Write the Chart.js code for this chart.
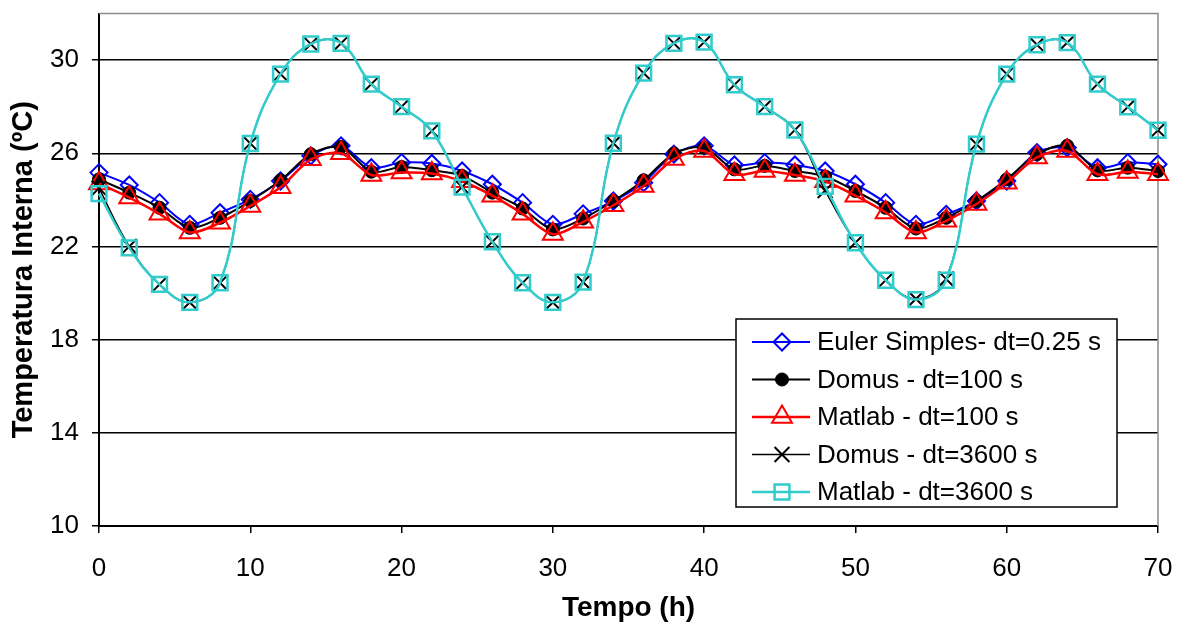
<!DOCTYPE html>
<html>
<head>
<meta charset="utf-8">
<script src="https://cdn.jsdelivr.net/npm/chart.js@4.4.1/dist/chart.umd.min.js"></script>
<style>
  html, body { margin: 0; padding: 0; background: #fff; }
  #wrap { width: 1182px; height: 628px; }
</style>
</head>
<body>
<div id="wrap"><canvas id="chart" width="1182" height="628"></canvas></div>
<script>
// tempo (h)
const hours = [0, 2, 4, 6, 8, 10, 12, 14, 16, 18, 20, 22, 24, 26, 28, 30, 32, 34,
  36, 38, 40, 42, 44, 46, 48, 50, 52, 54, 56, 58, 60, 62, 64, 66, 68, 70];

// temperatura interna (ºC)
const eulerDt025 = [25.17, 24.64, 23.88, 22.95, 23.45, 24.02, 24.81, 25.89, 26.32, 25.38, 25.6, 25.56,
  25.24, 24.67, 23.88, 22.95, 23.4, 23.95, 24.74, 25.96, 26.32, 25.5, 25.6, 25.5,
  25.24, 24.67, 23.88, 22.95, 23.38, 23.95, 24.81, 26.03, 26.24, 25.38, 25.6, 25.53];
const domusDt100 = [24.88, 24.31, 23.66, 22.8, 23.23, 23.95, 24.84, 25.96, 26.27, 25.21, 25.41, 25.27,
  25.03, 24.31, 23.63, 22.73, 23.2, 23.95, 24.84, 25.99, 26.24, 25.31, 25.46, 25.24,
  25.0, 24.38, 23.66, 22.77, 23.23, 23.95, 24.88, 25.96, 26.32, 25.27, 25.38, 25.24];
const matlabDt100 = [24.7, 24.1, 23.4, 22.6, 23.02, 23.74, 24.54, 25.74, 26.0, 25.07, 25.17, 25.13,
  24.8, 24.18, 23.4, 22.53, 23.06, 23.77, 24.6, 25.75, 26.1, 25.1, 25.24, 25.07,
  24.8, 24.18, 23.46, 22.6, 23.1, 23.82, 24.74, 25.82, 26.1, 25.1, 25.2, 25.1];
const domusDt3600 = [24.5, 22.0, 20.37, 19.6, 20.44, 26.42, 29.4, 30.69, 30.72, 28.97, 28.0, 26.96,
  24.55, 22.2, 20.44, 19.6, 20.47, 26.43, 29.44, 30.72, 30.77, 28.94, 28.0, 27.0,
  24.4, 22.16, 20.55, 19.75, 20.6, 26.39, 29.4, 30.66, 30.75, 28.97, 27.99, 26.99];
const matlabDt3600 = [24.27, 21.94, 20.37, 19.6, 20.44, 26.42, 29.4, 30.69, 30.72, 28.97, 28.0, 26.96,
  24.55, 22.2, 20.44, 19.6, 20.47, 26.43, 29.44, 30.72, 30.77, 28.94, 28.0, 27.0,
  24.58, 22.16, 20.55, 19.72, 20.55, 26.39, 29.4, 30.66, 30.75, 28.97, 27.99, 26.99];

const seriesLabels = ['Euler Simples- dt=0.25 s', 'Domus - dt=100 s', 'Matlab - dt=100 s',
  'Domus - dt=3600 s', 'Matlab - dt=3600 s'];

const xTicks = [0, 10, 20, 30, 40, 50, 60, 70];
const yTicks = [10, 14, 18, 22, 26, 30];

const FONT = "'Liberation Sans', Arial, sans-serif";

const toPoints = vals => hours.map((h, i) => ({ x: h, y: vals[i] }));

// moldura cinza no topo e à direita
const plotFrame = {
  id: 'plotFrame',
  beforeDatasetsDraw(chart) {
    const { ctx, chartArea: a } = chart;
    ctx.save();
    ctx.strokeStyle = '#8c8c8c';
    ctx.lineWidth = 1.5;
    ctx.beginPath();
    ctx.moveTo(a.left, a.top);
    ctx.lineTo(a.right, a.top);
    ctx.lineTo(a.right, a.bottom);
    ctx.stroke();
    ctx.restore();
  }
};

// legenda dentro da área do gráfico, com linha + marcador
const boxLegend = {
  id: 'boxLegend',
  afterDraw(chart) {
    const { ctx, chartArea: a } = chart;
    const x0 = a.right - 422, y0 = a.bottom - 207, w = 381, h = 188;
    ctx.save();
    ctx.fillStyle = '#fff';
    ctx.fillRect(x0, y0, w, h);
    ctx.strokeStyle = '#000';
    ctx.lineWidth = 1.5;
    ctx.strokeRect(x0, y0, w, h);
    chart.data.datasets.forEach((ds, i) => {
      const y = y0 + 23 + i * 37.5;
      ctx.strokeStyle = ds.borderColor;
      ctx.lineWidth = ds.borderWidth;
      ctx.beginPath();
      ctx.moveTo(x0 + 16, y);
      ctx.lineTo(x0 + 74, y);
      ctx.stroke();
      ctx.fillStyle = ds.pointBackgroundColor;
      ctx.strokeStyle = ds.borderColor;
      ctx.lineWidth = ds.pointBorderWidth;
      Chart.helpers.drawPoint(ctx, {
        pointStyle: ds.pointStyle,
        radius: ds.pointRadius,
        borderWidth: ds.pointBorderWidth,
        rotation: 0
      }, x0 + 46, y);
      ctx.fillStyle = '#000';
      ctx.font = '26px ' + FONT;
      ctx.textBaseline = 'middle';
      ctx.textAlign = 'left';
      ctx.fillText(ds.label, x0 + 81, y + 1);
    });
    ctx.restore();
  }
};

new Chart(document.getElementById('chart'), {
  type: 'line',
  data: {
    datasets: [
      {
        label: seriesLabels[0], data: toPoints(eulerDt025), order: 5,
        borderColor: '#0000ff', borderWidth: 2, tension: 0.3,
        pointStyle: 'rectRot', pointRadius: 8.5, pointBorderWidth: 2,
        pointBackgroundColor: 'rgba(255,255,255,0)'
      },
      {
        label: seriesLabels[1], data: toPoints(domusDt100), order: 4,
        borderColor: '#000000', borderWidth: 2, tension: 0.3,
        pointStyle: 'circle', pointRadius: 6.5, pointBorderWidth: 1,
        pointBackgroundColor: '#000000'
      },
      {
        label: seriesLabels[2], data: toPoints(matlabDt100), order: 3,
        borderColor: '#ff0000', borderWidth: 2.5, tension: 0.3,
        pointStyle: 'triangle', pointRadius: 11.5, pointBorderWidth: 2,
        pointBackgroundColor: 'rgba(255,255,255,0)'
      },
      {
        label: seriesLabels[3], data: toPoints(domusDt3600), order: 2,
        borderColor: '#000000', borderWidth: 1.5, tension: 0.4,
        pointStyle: 'crossRot', pointRadius: 10.5, pointBorderWidth: 2,
        pointBackgroundColor: '#000000'
      },
      {
        label: seriesLabels[4], data: toPoints(matlabDt3600), order: 1,
        borderColor: '#33cccc', borderWidth: 2.5, tension: 0.4,
        pointStyle: 'rect', pointRadius: 10.5, pointBorderWidth: 2.5,
        pointBackgroundColor: 'rgba(255,255,255,0)'
      }
    ]
  },
  options: {
    responsive: false,
    animation: false,
    devicePixelRatio: 1,
    layout: { padding: { left: 0, right: 24, top: 12, bottom: 0 } },
    datasets: { line: { clip: false } },
    plugins: {
      legend: { display: false },
      tooltip: { enabled: false }
    },
    scales: {
      x: {
        type: 'linear',
        min: 0,
        max: 70,
        afterFit: s => { s.height = 102; s.paddingLeft = 0; s.paddingRight = 0; },
        afterBuildTicks: s => { s.ticks = xTicks.map(v => ({ value: v })); },
        grid: { drawOnChartArea: false, color: '#000', tickLength: 7, lineWidth: 1.5 },
        border: { color: '#000', width: 2 },
        ticks: { color: '#000', padding: 20, maxRotation: 0, font: { family: FONT, size: 26 } },
        title: {
          display: true, text: 'Tempo (h)', color: '#000',
          font: { family: FONT, size: 28, weight: 'bold' },
          padding: { top: 0, bottom: 3 }
        }
      },
      y: {
        min: 10,
        max: 32,
        afterFit: s => { s.width = 99; s.paddingTop = 0; s.paddingBottom = 0; },
        afterBuildTicks: s => { s.ticks = yTicks.map(v => ({ value: v })); },
        grid: { color: '#000', tickLength: 7, lineWidth: 1.5 },
        border: { color: '#000', width: 2 },
        ticks: { color: '#000', padding: 13, font: { family: FONT, size: 26 } },
        title: {
          display: true, text: 'Temperatura Interna (ºC)', color: '#000',
          font: { family: FONT, size: 29, weight: 'bold' },
          padding: { top: 7, bottom: 0 }
        }
      }
    }
  },
  plugins: [plotFrame, boxLegend]
});
</script>
</body>
</html>
